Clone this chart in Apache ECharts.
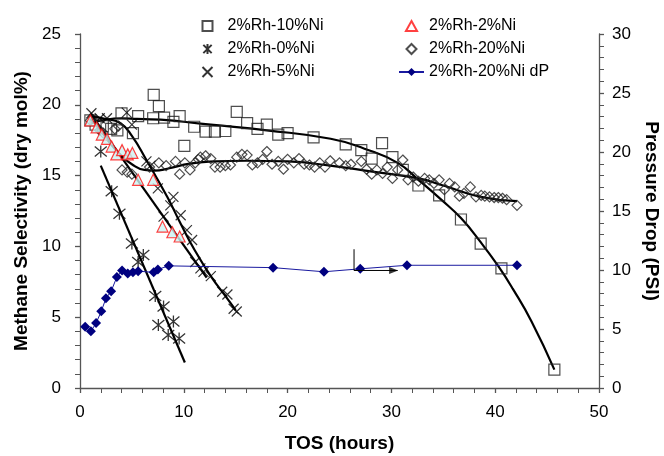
<!DOCTYPE html>
<html>
<head>
<meta charset="utf-8">
<script src="https://cdn.jsdelivr.net/npm/echarts@6/dist/echarts.min.js"></script>
<style>
html, body { margin: 0; padding: 0; background: #fff; }
#chart { width: 664px; height: 456px; }
</style>
</head>
<body>
<div id="chart"></div>
<script>
// TOS (h), selectivity (dry mol%)
var ni10 = [[1.0,18.9],[1.5,18.6],[2.2,18.5],[3.0,18.3],[3.6,18.2],[4.0,19.4],[5.1,18.0],[5.6,19.2],[7.05,19.05],[7.1,20.7],[7.6,19.9],
    [8.1,19.1],[9.0,18.8],[9.6,19.2],[10.05,17.1],[11.0,18.45],[12.1,18.1],[13.0,18.1],[14.0,18.15],[15.1,19.5],[16.1,18.7],[17.1,18.3],
    [18.0,18.6],[19.1,17.9],[20.0,18.0],[22.5,17.7],[25.6,17.2],[27.1,16.8],[28.1,16.2],[29.1,17.3],[30.1,16.3],[31.1,15.4],[32.6,14.3],
    [34.6,13.6],[36.7,11.9],[38.6,10.2],[40.6,8.45],[45.7,1.3]];
var ni0 = [[2.0,16.7],[3.05,13.9],[3.8,12.3],[5.0,10.2],[5.6,8.9],[6.1,9.4],[7.25,6.5],[7.55,4.45],[8.05,5.75],[8.5,3.75],[9.0,4.7],[9.55,3.5]];
var ni5 = [[1.1,19.4],[1.9,19.05],[2.6,19.05],[4.5,19.45],[5.0,18.6],[6.4,16.0],[6.8,15.7],[7.5,14.1],[8.05,12.1],[8.7,12.9],[9.0,13.5],
    [9.7,12.2],[10.3,11.15],[10.8,10.45],[11.1,8.9],[11.6,8.45],[11.9,8.2],[12.6,7.9],[13.7,6.8],[14.2,6.6],[14.8,5.6],[15.1,5.4]];
var ni2 = [[1.0,18.9],[1.6,18.4],[2.1,17.9],[2.6,17.6],[3.05,17.05],[3.5,16.5],[4.05,16.8],[4.6,16.5],[5.05,16.6],[5.6,14.7],[7.05,14.7],
    [7.95,11.4],[8.9,11.0],[9.6,10.7]];
var ni20 = [[1.0,18.9],[1.9,18.2],[2.25,18.0],[3.35,18.3],[3.7,18.5],[4.05,15.4],[4.55,15.25],[5.0,15.1],[6.7,15.6],[7.6,15.9],[8.3,15.7],
    [9.2,16.0],[9.6,15.1],[10.1,15.9],[10.6,15.4],[11.1,15.9],[11.4,16.15],[11.6,16.3],[12.1,16.4],[12.6,16.2],[13.0,15.6],[13.5,15.6],
    [14.0,15.7],[14.5,15.75],[15.1,16.3],[15.6,16.5],[16.1,16.45],[16.6,15.75],[17.1,15.9],[17.6,16.15],[18.0,16.7],[18.5,15.8],[19.1,16.0],
    [19.6,15.45],[20.0,16.15],[20.6,15.9],[21.1,16.2],[21.6,15.8],[22.1,15.75],[22.6,15.6],[23.1,15.9],[23.6,15.6],[24.1,16.05],[25.0,15.9],
    [25.6,15.7],[26.1,15.8],[27.1,16.0],[27.6,15.45],[28.1,15.1],[28.6,15.4],[29.15,15.15],[29.6,15.6],[30.1,14.8],[30.6,15.4],[31.1,16.1],
    [31.6,14.7],[32.1,14.9],[32.6,14.6],[33.2,14.8],[33.65,14.7],[34.1,14.45],[34.6,14.7],[35.1,14.0],[35.6,14.45],[36.1,14.2],[36.55,13.55],
    [37.0,13.75],[37.6,14.2],[38.15,13.5],[38.65,13.6],[39.0,13.55],[39.45,13.5],[39.9,13.45],[40.3,13.45],[40.7,13.4],[41.1,13.3],[42.1,12.9]];
// TOS (h), pressure drop (PSI)
var ni20dP = [[0.5,5.2],[1.05,4.8],[1.55,5.5],[2.05,6.5],[2.5,7.6],[3.0,8.2],[3.55,9.4],[4.05,9.95],[4.6,9.7],[5.1,9.8],[5.6,9.9],
    [7.1,9.8],[7.5,10.05],[8.55,10.35],[18.6,10.2],[23.5,9.85],[27.0,10.1],[31.5,10.4],[42.1,10.4]];

// trend curves
var fit10 = [[1.1,18.7],[4.0,19.05],[5.5,19.0],[8.7,18.9],[10.6,18.75],[12.6,18.6],[18,18.2],[24.15,17.6],[27.4,16.9],[30.6,15.9],
    [32.6,14.7],[34.8,13.3],[36.7,12.0],[38.6,10.3],[40.3,8.6],[41.7,7.0],[43.5,4.7],[45.7,1.3]];
var fit0 = [[2.0,15.7],[10.1,1.8]];
var fit5 = [[1.0,19.2],[2.5,19.0],[3.9,18.7],[5.0,17.8],[6.4,16.1],[8.4,13.5],[9.7,11.6],[11,9.8],[12.6,7.9],[14,6.5],[15,5.5]];
var fit2 = [[1.0,19.4],[12.2,7.8]];
var fit20 = [[1.0,19.0],[1.7,18.45],[3,17.2],[4,16.4],[5,15.8],[6.2,15.4],[7.2,15.35],[8.5,15.5],[10.6,15.85],[13,16.0],[16,16.05],
    [20,16.0],[24.1,15.7],[28,15.3],[32.6,14.8],[35,14.3],[38.6,13.5],[42.1,13.2]];

// arrow pointing the dP curve to the right axis
var arrowPts = [[26.4,9.8],[26.4,8.3],[30.6,8.3]];

var xTicks = [0, 50, 10];
var yLeftTicks = [0, 25, 5];
var yRightTicks = [0, 30, 5];

var FONT = 'Liberation Sans';
var chart = echarts.init(document.getElementById('chart'));

var squarePath = 'path://M0,0L10,0L10,10L0,10Z';
var diamondPath = 'path://M5,0L10,5L5,10L0,5Z';
var trianglePath = 'path://M5,0L10,9L0,9Z';
var crossPath = 'path://M0,0L10,10M10,0L0,10';
var starPath = 'path://M0,0L10,10M10,0L0,10M5,-1L5,11';
var arrowHead = 'path://M0,0L10,4L0,8Z';

function axisCommon() {
    return {
        axisLine: { show: true, lineStyle: { color: '#555', width: 1.3 } },
        axisTick: { show: true, length: 5, lineStyle: { color: '#555', width: 1.3 } },
        minorTick: { show: true, splitNumber: 5, length: 5, lineStyle: { color: '#555', width: 1 } },
        splitLine: { show: false },
        axisLabel: { color: '#000', fontFamily: FONT, fontSize: 17 },
        nameTextStyle: { color: '#000', fontFamily: FONT, fontSize: 19, fontWeight: 'bold' }
    };
}

function fitLine(data) {
    return {
        type: 'line', data: data, smooth: true, showSymbol: false, symbol: 'none', silent: true,
        lineStyle: { color: '#000', width: 2.2 }, z: 3
    };
}

var xAxis = axisCommon();
xAxis.type = 'value';
xAxis.min = xTicks[0]; xAxis.max = xTicks[1]; xAxis.interval = xTicks[2];
xAxis.name = 'TOS (hours)'; xAxis.nameLocation = 'middle'; xAxis.nameGap = 46;
xAxis.axisLabel.margin = 16;

var yLeft = axisCommon();
yLeft.type = 'value'; yLeft.position = 'left';
yLeft.min = yLeftTicks[0]; yLeft.max = yLeftTicks[1]; yLeft.interval = yLeftTicks[2];
yLeft.name = 'Methane Selectivity (dry mol%)'; yLeft.nameLocation = 'middle'; yLeft.nameGap = 48;
yLeft.axisLabel.margin = 19;

var yRight = axisCommon();
yRight.type = 'value'; yRight.position = 'right';
yRight.min = yRightTicks[0]; yRight.max = yRightTicks[1]; yRight.interval = yRightTicks[2];
yRight.name = 'Pressure Drop (PSI)'; yRight.nameLocation = 'middle'; yRight.nameGap = 38; yRight.nameRotate = 270;
yRight.axisLabel.margin = 13;

var legendText = { color: '#000', fontFamily: FONT, fontSize: 16 };

var option = {
    animation: false,
    backgroundColor: '#fff',
    grid: { left: 80, right: 65, top: 34, bottom: 68, outerBoundsMode: 'none' },
    legend: [
        { orient: 'vertical', left: 195, top: 13, itemWidth: 30, itemHeight: 10, itemGap: 7, textStyle: legendText,
          data: ['2%Rh-10%Ni', '2%Rh-0%Ni', '2%Rh-5%Ni'] },
        { orient: 'vertical', left: 393, top: 13, itemWidth: 25, itemHeight: 10, itemGap: 7, textStyle: legendText,
          data: [{ name: '2%Rh-2%Ni', itemStyle: { color: '#fff' } }, '2%Rh-20%Ni', '2%Rh-20%Ni dP'] }
    ],
    xAxis: xAxis,
    yAxis: [yLeft, yRight],
    series: [
        fitLine(fit10), fitLine(fit0), fitLine(fit5), fitLine(fit2), fitLine(fit20),
        { name: '2%Rh-10%Ni', type: 'scatter', data: ni10, symbol: squarePath, symbolSize: 11,
          itemStyle: { color: 'rgba(255,255,255,0)', borderColor: '#222', borderWidth: 1.2 }, z: 4 },
        { name: '2%Rh-0%Ni', type: 'scatter', data: ni0, symbol: starPath, symbolSize: 12,
          itemStyle: { color: 'none', borderColor: '#000', borderWidth: 1.3 }, z: 4 },
        { name: '2%Rh-5%Ni', type: 'scatter', data: ni5, symbol: crossPath, symbolSize: 10,
          itemStyle: { color: 'none', borderColor: '#000', borderWidth: 1.2 }, z: 4 },
        { name: '2%Rh-2%Ni', type: 'scatter', data: ni2, symbol: trianglePath, symbolSize: 11,
          itemStyle: { color: '#cdf3f3', borderColor: '#ff1010', borderWidth: 1.2 }, z: 5 },
        { name: '2%Rh-20%Ni', type: 'scatter', data: ni20, symbol: diamondPath, symbolSize: 10,
          itemStyle: { color: 'rgba(255,255,255,0)', borderColor: '#222', borderWidth: 1.2 }, z: 4 },
        { name: '2%Rh-20%Ni dP', type: 'line', yAxisIndex: 1, data: ni20dP, symbol: diamondPath, symbolSize: 10,
          showAllSymbol: true, lineStyle: { color: '#1a1aa0', width: 1 }, itemStyle: { color: '#000080' }, z: 6 },
        { type: 'line', data: arrowPts, showSymbol: false, symbol: 'none', silent: true,
          lineStyle: { color: '#000', width: 1 }, z: 7 },
        { type: 'scatter', data: arrowPts.slice(2), symbol: arrowHead, symbolSize: [9, 7], symbolOffset: [-4, 0],
          silent: true, itemStyle: { color: '#000' }, z: 7 }
    ]
};
chart.setOption(option);
</script>
</body>
</html>
